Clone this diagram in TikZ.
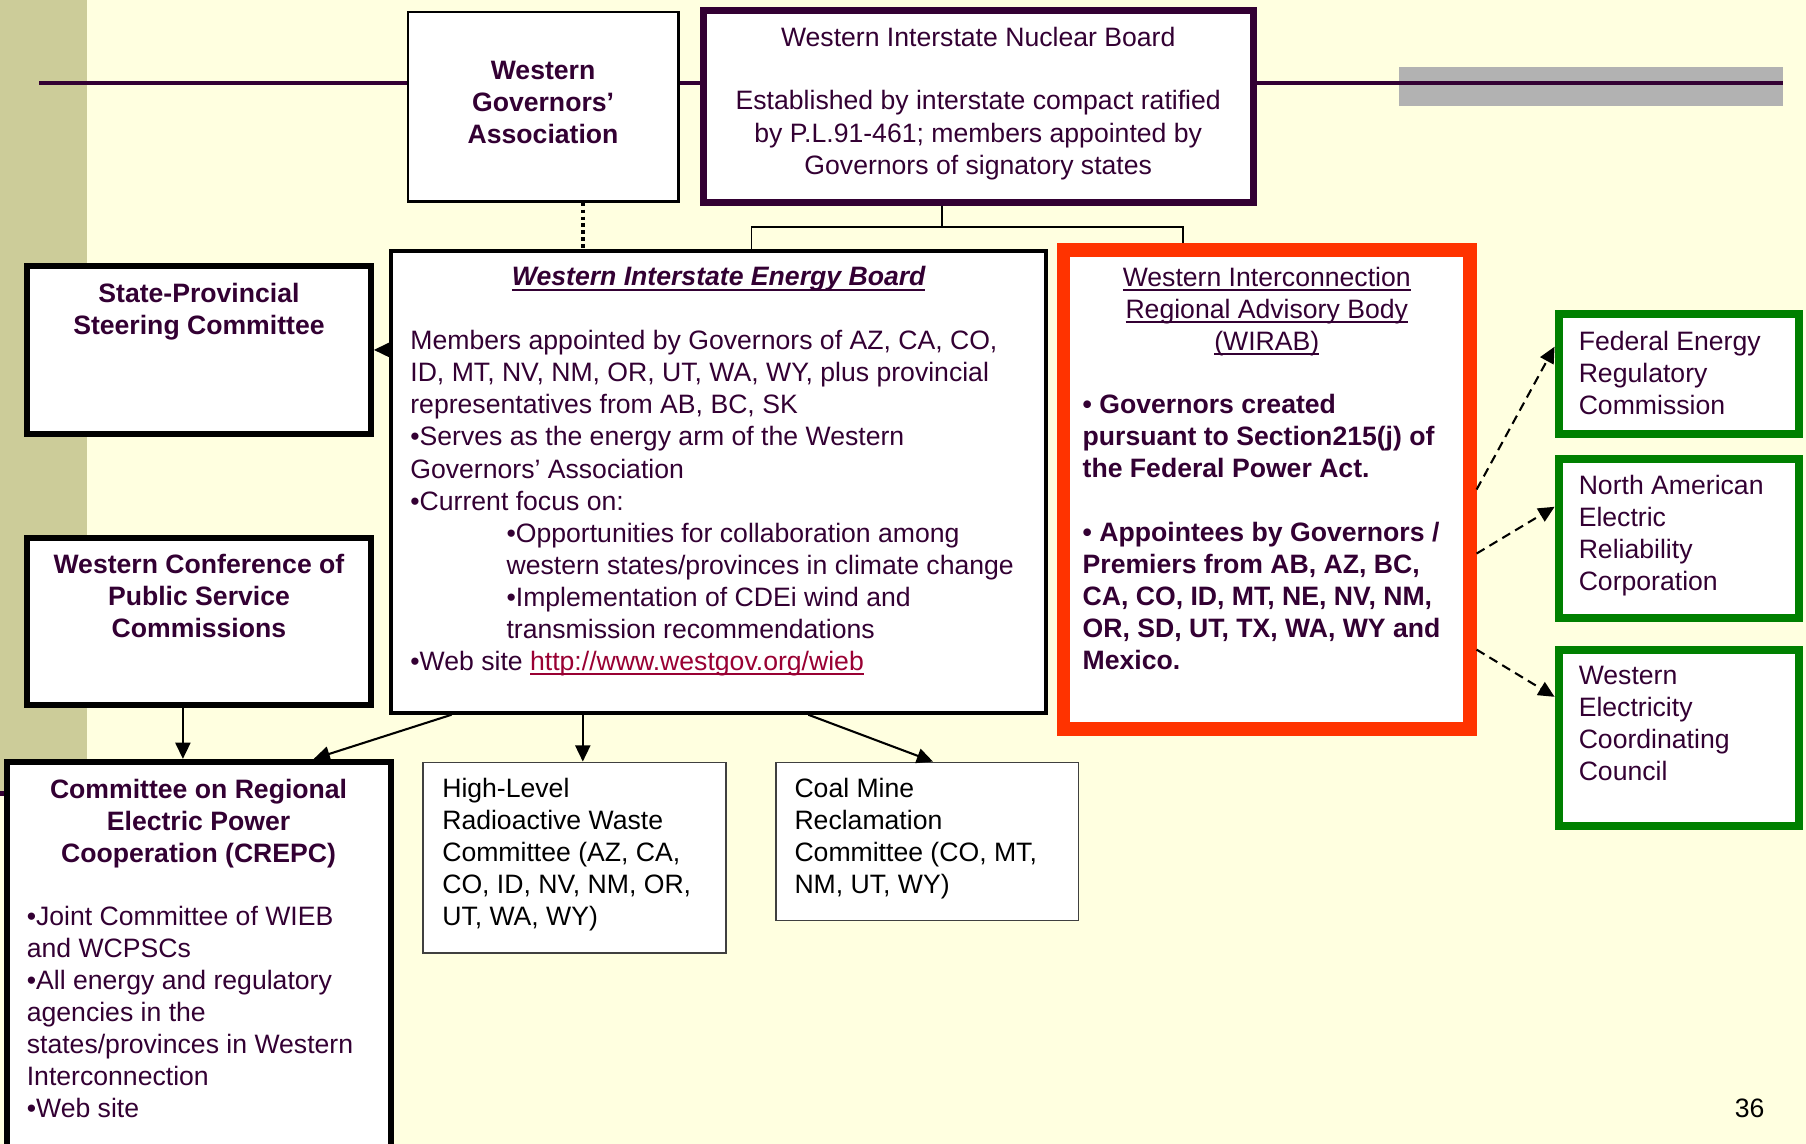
\documentclass[tikz,border=0pt]{standalone}
\usepackage{fontspec}
\setmainfont{Liberation Sans}
\usetikzlibrary{arrows.meta,calc}
\definecolor{bgy}{HTML}{FFFFE0}
\definecolor{stripc}{HTML}{CCCC99}
\definecolor{tpur}{HTML}{330033}
\definecolor{redb}{HTML}{FF3300}
\definecolor{grnb}{HTML}{008000}
\definecolor{greyb}{HTML}{B2B2B2}
\definecolor{linkc}{HTML}{990033}
\definecolor{thinb}{HTML}{404040}
\newcommand\myul[1]{\leavevmode\setbox0\hbox{#1}\rlap{\rule[-4.3pt]{\wd0}{1.8pt}}\box0}
\newcommand\fsz{\fontsize{23.1pt}{27.8pt}\selectfont}
\newcommand\fl{\rule{0pt}{20pt}}
\begin{document}
\begin{tikzpicture}[x=1pt,y=-1pt,
  box/.style={draw, fill=white, inner sep=0pt},
  txt/.style={inner sep=0pt, outer sep=0pt, font=\fsz, text=tpur, align=left, anchor=north west},
  txtc/.style={txt, align=center, anchor=north},
  arr/.style={line width=1.8pt, -{Triangle[length=14pt,width=13pt]}},
  darr/.style={arr, dash pattern=on 8pt off 5pt},
  conn/.style={line width=1.5pt},
  dotl/.style={line width=3pt, dash pattern=on 3pt off 3pt}]
\useasboundingbox (0,0) rectangle (1568,993);
\fill[bgy] (0,0) rectangle (1568,993);
\fill[stripc] (0,0) rectangle (75.7,689);
\draw[tpur, line width=5pt] (0,689) -- (20,689);
\fill[greyb] (1215,58) rectangle (1548,92);
\draw[tpur, line width=3.5pt] (34,72) -- (1548,72);

% Western Governors' Association
\node[box, line width=2pt, minimum width=235pt, minimum height=164.7pt] (wga) at (471.5,92.65) {};
\node[txtc, font=\fsz\bfseries] (wgat) at (471.5,49) {\fl Western\\Governors’\\Association};

% Western Interstate Nuclear Board
\node[box, draw=tpur, line width=6pt, minimum width=477.4pt, minimum height=166.4pt] (winb) at (849.3,92.6) {};
\node[txtc] (winbt1) at (849.3,20.5) {\fl Western Interstate Nuclear Board};
\node[txtc] (winbt2) at (849.3,75.5) {\fl Established by interstate compact ratified\\by P.L.91-461; members appointed by\\Governors of signatory states};

% Western Interstate Energy Board
\node[box, line width=3.3pt, minimum width=568.8pt, minimum height=401.3pt] (wieb) at (624,418.25) {};
\node[txtc, font=\fsz\bfseries\itshape] (wiebt) at (624,228.3) {\fl\myul{Western Interstate Energy Board}};
\node[txt] (wiebb) at (356.3,283.8) {\fl Members appointed by Governors of AZ, CA, CO,\\
ID, MT, NV, NM, OR, UT, WA, WY, plus provincial\\
representatives from AB, BC, SK\\
•Serves as the energy arm of the Western\\
Governors’ Association\\
•Current focus on:\\
\hspace*{83.5pt}•Opportunities for collaboration among\\
\hspace*{83.5pt}western states/provinces in climate change\\
\hspace*{83.5pt}•Implementation of CDEi wind and\\
\hspace*{83.5pt}transmission recommendations\\
•Web site {\color{linkc}\myul{http://www.westgov.org/wieb}}};

% State-Provincial Steering Committee
\node[box, line width=5pt, minimum width=298.7pt, minimum height=145.4pt] (spsc) at (172.75,303.8) {};
\node[txtc, font=\fsz\bfseries] (spsct) at (172.75,242.4) {\fl State-Provincial\\Steering Committee};

% Western Conference of Public Service Commissions
\node[box, line width=5pt, minimum width=298.7pt, minimum height=145.5pt] (wcpsc) at (172.75,539.65) {};
\node[txtc, font=\fsz\bfseries] (wcpsct) at (172.75,477.6) {\fl Western Conference of\\Public Service\\Commissions};

% CREPC
\node[box, line width=5.3pt, minimum width=333.4pt, minimum height=338.5pt] (crepc) at (172.7,830.75) {};
\node[txtc, font=\fsz\bfseries] (crepct) at (172.4,673) {\fl Committee on Regional\\Electric Power\\Cooperation (CREPC)};
\node[txt] (crepcb) at (23.3,783.5) {\fl •Joint Committee of WIEB\\and WCPSCs\\•All energy and regulatory\\agencies in the\\states/provinces in Western\\Interconnection\\•Web site};

% High-Level Radioactive Waste Committee
\node[box, draw=thinb, line width=1.5pt, minimum width=262.9pt, minimum height=165.3pt] (hlrw) at (498.8,744.6) {};
\node[txt, text=black] (hlrwt) at (384,672) {\fl High-Level\\Radioactive Waste\\Committee (AZ, CA,\\CO, ID, NV, NM, OR,\\UT, WA, WY)};

% Coal Mine Reclamation Committee
\node[box, draw=thinb, line width=1.5pt, minimum width=262.7pt, minimum height=137.3pt] (coal) at (804.9,730.6) {};
\node[txt, text=black] (coalt) at (689.8,672) {\fl Coal Mine\\Reclamation\\Committee (CO, MT,\\NM, UT, WY)};

% WIRAB
\node[box, draw=redb, line width=11.5pt, minimum width=352.9pt, minimum height=415.9pt] (wirab) at (1099.8,424.9) {};
\node[txtc] (wirabt) at (1099.8,228.4) {\fl\myul{Western Interconnection}\\\myul{Regional Advisory Body}\\\myul{(WIRAB)}};
\node[txt, font=\fsz\bfseries] (wirab1) at (940,339.3) {\fl • Governors created\\pursuant to Section215(j) of\\the Federal Power Act.};
\node[txt, font=\fsz\bfseries] (wirab2) at (940,450) {\fl • Appointees by Governors /\\Premiers from AB, AZ, BC,\\CA, CO, ID, MT, NE, NV, NM,\\OR, SD, UT, TX, WA, WY and\\Mexico.};

% green boxes
\node[box, draw=grnb, line width=7pt, minimum width=208.3pt, minimum height=103.6pt] (ferc) at (1457.35,324.7) {};
\node[txt] (ferct) at (1370.7,284.7) {\fl Federal Energy\\Regulatory\\Commission};
\node[box, draw=grnb, line width=7pt, minimum width=208.3pt, minimum height=138.2pt] (nerc) at (1457.35,467.2) {};
\node[txt] (nerct) at (1370.7,409.3) {\fl North American\\Electric\\Reliability\\Corporation};
\node[box, draw=grnb, line width=7pt, minimum width=208.3pt, minimum height=152.6pt] (wecc) at (1457.35,640.6) {};
\node[txt] (wecct) at (1370.7,574.6) {\fl Western\\Electricity\\Coordinating\\Council};

\node[inner sep=0pt, anchor=base west, font=\fsz] (pg) at (1506,969.8) {36};

% connectors
\coordinate (busL) at (652.5,196.8);
\coordinate (busR) at (1027,196.8);
\coordinate (busM) at (817.8,196.8);
\draw[conn] (winb.south -| busM) -- (busM);
\draw[conn] (busL |- wieb.north) -- (busL) -- (busR) -- (busR |- wirab.north);
\coordinate (dx) at (506,0);
\draw[dotl] (wga.south -| dx) -- (wieb.north -| dx);

\draw[arr] (wieb.west |- spsc.east) -- (spsc.east);
\coordinate (c1) at (158.8,0);
\draw[arr] (wcpsc.south -| c1) -- (crepc.north -| c1);
\coordinate (c2a) at (392,0);
\coordinate (c2b) at (272.4,0);
\draw[arr] (wieb.south -| c2a) -- (crepc.north -| c2b);
\draw[arr] (wieb.south -| dx) -- (hlrw.north -| dx);
\coordinate (c4a) at (701.8,0);
\coordinate (c4b) at (810,0);
\draw[arr] (wieb.south -| c4a) -- (coal.north -| c4b);

\coordinate (d1a) at (0,425);
\coordinate (d1b) at (0,301);
\coordinate (d2a) at (0,480.6);
\coordinate (d2b) at (0,440);
\coordinate (d3a) at (0,564);
\coordinate (d3b) at (0,605);
\draw[darr] (wirab.east |- d1a) -- (ferc.west |- d1b);
\draw[darr] (wirab.east |- d2a) -- (nerc.west |- d2b);
\draw[darr] (wirab.east |- d3a) -- (wecc.west |- d3b);
\end{tikzpicture}
\end{document}
